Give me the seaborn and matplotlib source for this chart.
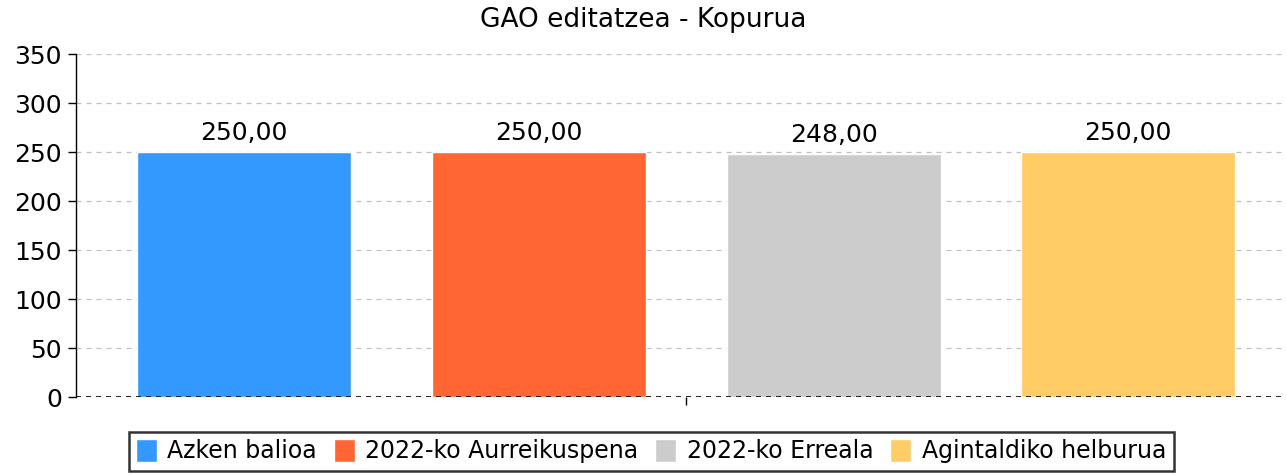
import pandas as pd
import matplotlib
matplotlib.use("Agg")
import matplotlib.pyplot as plt
import seaborn as sns

# Data
series = ["Azken balioa", "2022-ko Aurreikuspena", "2022-ko Erreala", "Agintaldiko helburua"]
values = [250.0, 250.0, 248.0, 250.0]
colors = ["#3399FF", "#FF6633", "#CCCCCC", "#FFCC66"]
title = "GAO editatzea - Kopurua"

df = pd.DataFrame({"group": [""] * len(series), "serie": series, "value": values})

sns.set_theme(style="white")
plt.rcParams["font.family"] = ["DejaVu Sans"]
plt.rcParams["text.color"] = "black"
plt.rcParams["xtick.color"] = "black"
plt.rcParams["ytick.color"] = "black"

fig = plt.figure(figsize=(12.86, 4.75), dpi=100)
ax = fig.add_axes([0.0591, 0.1642, 0.9409, 0.7221])

sns.barplot(data=df, x="group", y="value", hue="serie", palette=colors,
            width=0.8, gap=0.274, legend=True, ax=ax, saturation=1)

# value labels
for cont, v in zip(ax.containers, values):
    ax.bar_label(cont, labels=[f"{v:.2f}".replace(".", ",")], padding=5, fontsize=18,
                 color="black")

ax.set_ylim(0, 350)
ax.set_yticks(range(0, 351, 50))
ax.set_xlim(-0.414, 0.407)
ax.set_xlabel("")
ax.set_ylabel("")
ax.set_xticks([0])
ax.set_xticklabels([""])

ax.yaxis.grid(True, linestyle=(0, (4, 4)), color="#c0c0c0", linewidth=0.9)
ax.set_axisbelow(True)
ax.axhline(0, color="black", linestyle=(0, (3, 3)), linewidth=1.2, zorder=1.5)

for s in ["top", "right", "bottom"]:
    ax.spines[s].set_visible(False)
ax.spines["left"].set_color("black")
ax.spines["left"].set_linewidth(1.0)
ax.tick_params(axis="y", left=True, length=6, width=1, color="black", labelsize=18, pad=4)
ax.tick_params(axis="x", bottom=True, length=6, width=1, color="black")

fig.suptitle(title, y=0.985, fontsize=19, color="black")

handles, labels = ax.get_legend_handles_labels()
ax.legend_.remove()
leg = fig.legend(handles, labels, loc="upper center", bbox_to_anchor=(651 / 1286, 0.0905),
                 ncol=4, fontsize=17, frameon=True, fancybox=False, edgecolor="black",
                 handlelength=0.9, handleheight=1.1, handletextpad=0.45, columnspacing=0.7,
                 borderpad=0.3, borderaxespad=0)
leg.get_frame().set_linewidth(1.8)

fig.savefig("out.png", dpi=100)
